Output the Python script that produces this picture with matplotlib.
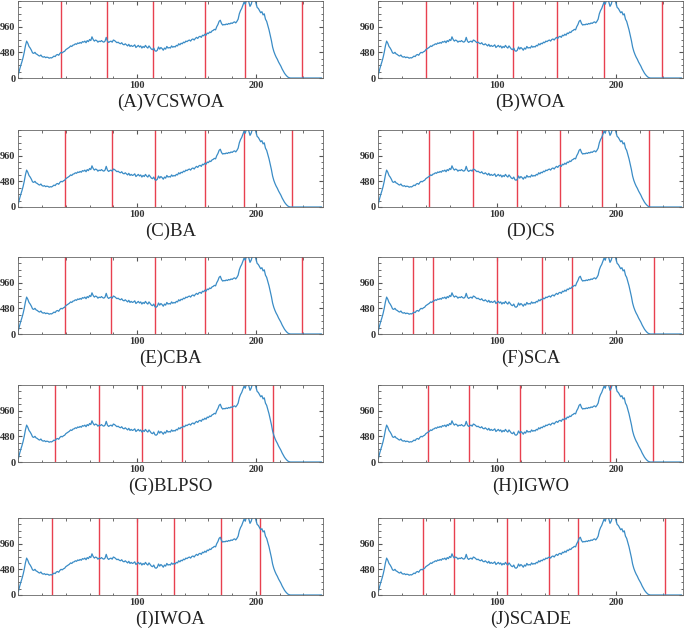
import matplotlib
matplotlib.use("Agg")
import matplotlib.pyplot as plt
from matplotlib.ticker import MultipleLocator

plt.rcParams['font.family'] = ['Liberation Serif', 'DejaVu Serif']

# grey-level histogram (bins 0..255)
hist = [
    60, 150, 230, 300, 380, 480, 600, 690, 650, 590, 560, 520, 470, 460, 480, 450,
    440, 420, 410, 430, 400, 390, 400, 380, 390, 385, 370, 380, 375, 390, 410, 400,
    430, 440, 425, 460, 480, 470, 490, 500, 530, 545, 560, 575, 600, 590, 615, 620,
    640, 630, 655, 645, 665, 650, 680, 670, 690, 660, 700, 680, 720, 700, 770, 720,
    690, 710, 700, 670, 690, 680, 700, 680, 670, 690, 760, 690, 665, 680, 690, 670,
    710, 700, 680, 660, 670, 650, 640, 660, 630, 620, 640, 620, 600, 630, 590, 610,
    590, 600, 620, 570, 590, 610, 580, 600, 560, 590, 570, 610, 580, 560, 600, 570,
    540, 530, 560, 510, 500, 520, 580, 540, 570, 550, 520, 560, 540, 590, 560, 570,
    560, 600, 575, 590, 580, 610, 600, 640, 620, 650, 640, 670, 660, 690, 680, 700,
    710, 690, 720, 730, 710, 740, 760, 740, 770, 780, 760, 800, 790, 820, 800, 840,
    830, 860, 850, 880, 890, 910, 900, 960, 1000, 1060, 1080, 1020, 990, 1000, 995, 1010,
    1000, 1020, 1010, 1030, 1020, 1040, 1050, 1030, 1060, 1100, 1200, 1260, 1300, 1360, 1420, 1380,
    1460, 1500, 1420, 1340, 1380, 1460, 1500, 1480, 1400, 1320, 1300, 1260, 1220, 1240, 1180, 1200,
    1100, 1060, 980, 900, 800, 700, 580, 500, 440, 390, 350, 300, 260, 220, 170, 130,
    90, 60, 35, 15, 5, 0, 0, 0, 0, 0, 0, 0, 0, 0, 0, 0,
    0, 0, 0, 0, 0, 0, 0, 0, 0, 0, 0, 0, 0, 0, 0, 0,
]

names = ['(A)VCSWOA', '(B)WOA', '(C)BA', '(D)CS', '(E)CBA',
         '(F)SCA', '(G)BLPSO', '(H)IGWO', '(I)IWOA', '(J)SCADE']

thresholds = [
    [36, 75, 113, 157, 191, 239],
    [40, 83, 113, 150, 190, 239],
    [39, 79, 115, 157, 190, 230],
    [43, 80, 117, 153, 188, 228],
    [39, 78, 115, 157, 191, 239],
    [29, 46, 100, 138, 163, 232],
    [31, 68, 104, 138, 180, 214],
    [42, 76, 119, 156, 195, 231],
    [28, 68, 100, 131, 171, 203],
    [38, 64, 108, 144, 168, 241],
]

W, H = 685, 636
fig = plt.figure(figsize=(W / 100, H / 100), dpi=100)

lefts = [18.3, 378.3]
width = 304.2
tops = [1, 130, 257, 385, 518]
height = 77

x = list(range(256))
for i, name in enumerate(names):
    r, c = divmod(i, 2)
    ax = fig.add_axes([lefts[c] / W, 1 - (tops[r] + height) / H, width / W, height / H])
    for t in thresholds[i]:
        ax.axvline(t, color='#e8404f', lw=1.0)
    ax.plot(x, hist, color='#3a8cc6', lw=0.9)
    ax.set_xlim(0, 256)
    ax.set_ylim(0, 1440)
    ax.set_xticks([100, 200])
    ax.set_yticks([0, 480, 960])
    ax.xaxis.set_minor_locator(MultipleLocator(20))
    ax.yaxis.set_minor_locator(MultipleLocator(120))
    ax.tick_params(which='both', direction='in', top=True, right=True,
                   labelsize=7.5, pad=2, color='#555555')
    ax.tick_params(which='major', length=3)
    ax.tick_params(which='minor', length=1.8)
    for lab in ax.get_xticklabels() + ax.get_yticklabels():
        lab.set_fontweight('bold')
        lab.set_color('#333333')
    for s in ax.spines.values():
        s.set_color('#666666')
        s.set_linewidth(0.6)
    ax.text(0.5, -0.31, name, transform=ax.transAxes, ha='center', va='center',
            fontsize=13.5, color='#222222')

fig.savefig('out.png', dpi=100)
